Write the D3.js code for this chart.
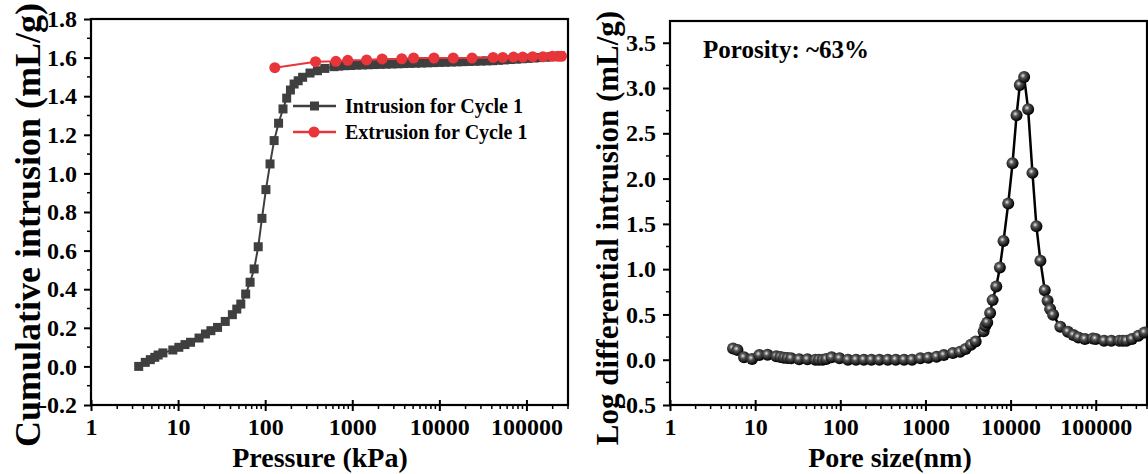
<!DOCTYPE html>
<html>
<head>
<meta charset="utf-8">
<script src="https://cdn.jsdelivr.net/npm/d3@7"></script>
<style>
  body { margin: 0; background: #fff; }
  text { font-family: "Liberation Serif", "Times New Roman", serif; font-weight: bold; fill: #000; }
</style>
</head>
<body>
<div id="chart"></div>
<script>
// left panel: cumulative intrusion vs pressure (kPa)
const intrP = [3.53, 4.2, 4.8, 5.4, 5.9, 6.7, 8.7, 10.2, 12, 13.9, 17.4, 20.6, 23.8, 28.4, 34.8, 42, 47.2, 52.5, 59.7, 67.1,
  74.7, 83.2, 91.8, 102, 113.7, 126.7, 142.5, 160.2, 176.6, 195, 214.8, 239.3, 269, 327, 398, 484, 617,
  700, 820, 960, 1120, 1310, 1530, 1790, 2090, 2450, 2860, 3350, 3910, 4580, 5350, 6260, 7320, 8560, 10000,
  11700, 13700, 16000, 18700, 21900, 25600, 29900, 35000, 40900, 47800, 55900, 65400, 76500, 89400,
  104500, 122000, 143000, 167000, 195000, 228000, 246000];
const intrV = [0.0, 0.021, 0.035, 0.047, 0.059, 0.07, 0.085, 0.099, 0.113, 0.125, 0.147, 0.168, 0.185, 0.202, 0.233, 0.268, 0.297, 0.323, 0.375, 0.436,
  0.505, 0.62, 0.767, 0.916, 1.049, 1.17, 1.26, 1.334, 1.39, 1.432, 1.463, 1.48, 1.498, 1.52, 1.532, 1.544, 1.553,
  1.556, 1.558, 1.559, 1.561, 1.562, 1.563, 1.564, 1.565, 1.566, 1.567, 1.568, 1.569, 1.57, 1.571, 1.572, 1.573, 1.574, 1.575,
  1.576, 1.577, 1.578, 1.579, 1.58, 1.581, 1.582, 1.583, 1.584, 1.586, 1.588, 1.59, 1.592, 1.594,
  1.596, 1.598, 1.6, 1.602, 1.605, 1.607, 1.609];
const extrP = [129, 379, 649, 888, 1462, 2204, 3700, 5060, 8670, 14430, 23750, 41480, 53500, 71000, 90700, 118000, 155000, 198000, 230000, 253000];
const extrV = [1.548, 1.579, 1.581, 1.586, 1.588, 1.593, 1.594, 1.598, 1.598, 1.598, 1.598, 1.601, 1.601, 1.603, 1.603, 1.605, 1.605, 1.607, 1.607, 1.607];

// right panel: log differential intrusion vs pore size (nm)
const poreD = [5.5, 6.2, 7.4, 9.2, 11.2, 14, 17.7, 19.8, 21.8, 24, 26.5, 32.9, 41.1, 51, 56, 62, 68.4, 79, 98, 123,
  153, 189, 232, 288, 361, 448, 561, 695, 871, 1080, 1352, 1644, 2100, 2553, 2958, 3423, 3890, 4822, 5058, 5317,
  5750, 6153, 6790, 7485, 8260, 9380, 10540, 11750, 12830, 14430, 16070, 18070, 20100, 22400, 25200, 27200, 29150, 31540,
  38370, 47100, 54600, 62550, 74600, 92500, 100000, 125300, 152400, 189000, 208000, 229000, 266000, 317000, 374000];
const poreV = [0.125, 0.107, 0.026, 0.007, 0.051, 0.055, 0.037, 0.03, 0.022, 0.018, 0.015, 0.004, 0.004, 0.0, 0.0, 0.0, 0.007, 0.026, 0.015, 0.0,
  0.0, 0.0, 0.0, 0.0, 0.0, 0.0, 0.0, 0.0, 0.015, 0.022, 0.033, 0.051, 0.074, 0.088, 0.118, 0.165, 0.202, 0.313, 0.375, 0.412,
  0.515, 0.658, 0.809, 1.018, 1.312, 1.724, 2.169, 2.699, 3.033, 3.121, 2.765, 2.063, 1.474, 1.092, 0.768, 0.651, 0.559, 0.496,
  0.364, 0.309, 0.272, 0.246, 0.228, 0.235, 0.228, 0.21, 0.21, 0.21, 0.21, 0.21, 0.228, 0.265, 0.30];

const xTicks = [1, 10, 100, 1000, 10000, 100000];
const leftYTicks = [-0.2, 0.0, 0.2, 0.4, 0.6, 0.8, 1.0, 1.2, 1.4, 1.6, 1.8];
const rightYTicks = [-0.5, 0.0, 0.5, 1.0, 1.5, 2.0, 2.5, 3.0, 3.5];

const svg = d3.select("#chart").append("svg").attr("width", 1148).attr("height", 474);
svg.append("rect").attr("width", 1148).attr("height", 474).attr("fill", "#fff");

const defs = svg.append("defs");
const grad = defs.append("radialGradient").attr("id", "ball").attr("cx", "40%").attr("cy", "38%").attr("r", "60%");
grad.append("stop").attr("offset", "0%").attr("stop-color", "#e8e8e8");
grad.append("stop").attr("offset", "35%").attr("stop-color", "#555");
grad.append("stop").attr("offset", "100%").attr("stop-color", "#000");

function minorTicks(dMax) {
  const out = [];
  for (let e = 0; e < 7; e++) for (let k = 2; k <= 9; k++) {
    const v = k * Math.pow(10, e);
    if (v <= dMax) out.push(v);
  }
  return out;
}

const fmtY = d => (d < 0 ? "-" : "") + Math.abs(d).toFixed(1);

function panel(o) {
  const g = svg.append("g");
  const x = d3.scaleLog().domain(o.xDomain).range([o.left, o.right]);
  const y = d3.scaleLinear().domain(o.yDomain).range([o.bottom, o.top]);

  // bottom axis: major + minor ticks
  const xa = g.append("g").attr("transform", `translate(0,${o.bottom})`)
    .call(d3.axisBottom(x).tickValues(xTicks).tickFormat(d3.format("d")).tickSize(6).tickPadding(7));
  xa.selectAll(".tick line").attr("y1", -5).attr("stroke-width", 2);
  xa.append("g").selectAll("line").data(minorTicks(o.xDomain[1])).join("line")
    .attr("x1", d => x(d)).attr("x2", d => x(d)).attr("y1", 0).attr("y2", 4)
    .attr("stroke", "#000").attr("stroke-width", 1.5);

  const ya = g.append("g").attr("transform", `translate(${o.left},0)`)
    .call(d3.axisLeft(y).tickValues(o.yTicks).tickFormat(fmtY).tickSize(7).tickPadding(7));
  ya.selectAll(".tick line").attr("stroke-width", 2);
  const step = o.yTicks[1] - o.yTicks[0];
  const yMinor = o.yTicks.map(t => t + step / 2).filter(v => v < o.yDomain[1]);
  ya.append("g").selectAll("line").data(yMinor).join("line")
    .attr("y1", d => y(d)).attr("y2", d => y(d)).attr("x1", 0).attr("x2", -4)
    .attr("stroke", "#000").attr("stroke-width", 1.5);

  g.selectAll(".domain").remove();
  g.selectAll(".tick text").attr("font-size", 24).attr("fill", "#000");

  g.append("rect").attr("x", o.left).attr("y", o.top).attr("width", o.right - o.left).attr("height", o.bottom - o.top)
    .attr("fill", "none").attr("stroke", "#000").attr("stroke-width", 2.2);

  g.append("text").attr("x", o.xTitleX).attr("y", 467).attr("text-anchor", "middle")
    .attr("font-size", 28).text(o.xTitle);
  g.append("text").attr("transform", `translate(${o.yTitleX},${o.yTitleY}) rotate(-90)`)
    .attr("text-anchor", "middle").attr("font-size", o.yTitleSize).text(o.yTitle);
  return {g, x, y};
}

// ---- left
const L = panel({left: 91, right: 568, top: 19, bottom: 405, xDomain: [1, 300000], yDomain: [-0.2, 1.8],
  yTicks: leftYTicks, xTitle: "Pressure (kPa)", xTitleX: 320,
  yTitle: "Cumulative intrusion (mL/g)", yTitleX: 40, yTitleY: 225, yTitleSize: 36});
const intr = intrP.map((p, i) => [p, intrV[i]]);
const extr = extrP.map((p, i) => [p, extrV[i]]);
const lineL = d3.line().x(d => L.x(d[0])).y(d => L.y(d[1]));
L.g.append("path").datum(intr).attr("d", lineL).attr("fill", "none").attr("stroke", "#3f3f3f").attr("stroke-width", 2);
L.g.append("g").selectAll("rect").data(intr).join("rect")
  .attr("x", d => L.x(d[0]) - 4.5).attr("y", d => L.y(d[1]) - 4.5).attr("width", 9).attr("height", 9).attr("fill", "#3f3f3f");
L.g.append("path").datum(extr).attr("d", lineL).attr("fill", "none").attr("stroke", "#e8353a").attr("stroke-width", 2);
L.g.append("g").selectAll("circle").data(extr).join("circle")
  .attr("cx", d => L.x(d[0])).attr("cy", d => L.y(d[1])).attr("r", 5.5).attr("fill", "#e8353a");

// legend
const leg = L.g.append("g");
[["Intrusion for Cycle 1", "#3f3f3f", "sq", 106], ["Extrusion for Cycle 1", "#e8353a", "ci", 132]].forEach(([t, c, m, yy]) => {
  leg.append("line").attr("x1", 293).attr("x2", 336).attr("y1", yy).attr("y2", yy).attr("stroke", c).attr("stroke-width", 2.5);
  if (m === "sq") leg.append("rect").attr("x", 310).attr("y", yy - 4.5).attr("width", 9).attr("height", 9).attr("fill", c);
  else leg.append("circle").attr("cx", 314).attr("cy", yy).attr("r", 5.5).attr("fill", c);
  leg.append("text").attr("x", 345).attr("y", yy + 7).attr("font-size", 20).text(t);
});

// ---- right
const R = panel({left: 670, right: 1147, top: 21, bottom: 405, xDomain: [1, 400000], yDomain: [-0.5, 3.74],
  yTicks: rightYTicks, xTitle: "Pore size(nm)", xTitleX: 890,
  yTitle: "Log differential intrusion (mL/g)", yTitleX: 618, yTitleY: 228, yTitleSize: 31});
const pore = poreD.map((p, i) => [p, poreV[i]]);
const lineR = d3.line().x(d => R.x(d[0])).y(d => R.y(d[1]));
R.g.append("path").datum(pore).attr("d", lineR).attr("fill", "none").attr("stroke", "#000").attr("stroke-width", 2.5);
R.g.append("g").selectAll("circle").data(pore).join("circle")
  .attr("cx", d => R.x(d[0])).attr("cy", d => R.y(d[1])).attr("r", 6).attr("fill", "url(#ball)");
R.g.append("text").attr("x", 703).attr("y", 58).attr("font-size", 25).text("Porosity: ~63%");
</script>
</body>
</html>
